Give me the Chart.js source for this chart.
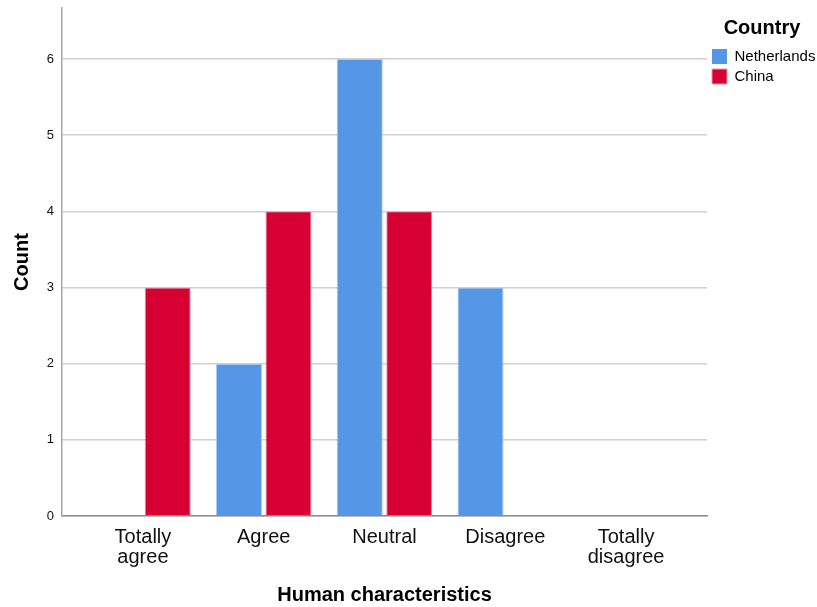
<!DOCTYPE html>
<html>
<head>
<meta charset="utf-8">
<script src="https://cdn.jsdelivr.net/npm/chart.js@4/dist/chart.umd.min.js"></script>
<style>
  html, body { margin: 0; padding: 0; background: #fff; }
  #wrap { width: 817px; height: 607px; }
</style>
</head>
<body>
<div id="wrap"><canvas id="grafico" width="817" height="607"></canvas></div>
<script>
// Datos del gráfico
const categorias = [["Totally", "agree"], "Agree", "Neutral", "Disagree", ["Totally", "disagree"]];
const paises = ["Netherlands", "China"];
const valoresHolanda = [0, 2, 6, 3, 0];
const valoresChina = [3, 4, 4, 0, 0];
const ticksY = [0, 1, 2, 3, 4, 5, 6];

const AZUL = "#5596e6";
const ROJO = "#d70032";

function puntos(valores) {
  return valores.map((v, i) => ({ x: i, y: v }));
}

// Ancho fijo de la leyenda (a la derecha)
const anchoLeyenda = {
  id: "anchoLeyenda",
  beforeLayout(chart) {
    const ley = chart.legend;
    if (!ley || ley._fitParcheado) return;
    const fitOriginal = ley.fit;
    ley.fit = function () {
      fitOriginal.call(this);
      this.width = 110;
    };
    ley._fitParcheado = true;
  }
};

const ctx = document.getElementById("grafico").getContext("2d");
new Chart(ctx, {
  type: "bar",
  data: {
    datasets: [
      {
        label: paises[0],
        data: puntos(valoresHolanda),
        backgroundColor: AZUL,
        borderColor: "#a9cbf3",
        borderWidth: c => (c.raw && c.raw.y ? 1 : 0),
        borderSkipped: "bottom"
      },
      {
        label: paises[1],
        data: puntos(valoresChina),
        backgroundColor: ROJO,
        borderColor: "#ee9aae",
        borderWidth: c => (c.raw && c.raw.y ? 1 : 0),
        borderSkipped: "bottom"
      }
    ]
  },
  plugins: [anchoLeyenda],
  options: {
    responsive: false,
    animation: false,
    events: [],
    layout: { padding: { top: 8, right: 0, left: 0, bottom: 0 } },
    datasets: { bar: { categoryPercentage: 0.82, barPercentage: 0.93 } },
    plugins: {
      tooltip: { enabled: false },
      legend: {
        position: "right",
        align: "start",
        title: {
          display: true,
          text: "Country",
          color: "#000",
          font: { family: "Liberation Sans", size: 20, weight: "bold" },
          padding: { top: 10, bottom: 2 }
        },
        labels: {
          boxWidth: 15,
          boxHeight: 15,
          padding: 5,
          color: "#000",
          font: { family: "Liberation Sans", size: 15 }
        }
      }
    },
    scales: {
      x: {
        type: "linear",
        offset: false,
        min: -0.67,
        max: 4.67,
        afterBuildTicks: s => { s.ticks = categorias.map((c, i) => ({ value: i })); },
        afterFit: s => { s.height = 91; },
        grid: { display: false, drawTicks: false, offset: false },
        border: { display: true, color: "#8c8c8c", width: 1.5 },
        ticks: {
          autoSkip: false,
          maxRotation: 0,
          padding: 11,
          color: "#111",
          font: { family: "Liberation Sans", size: 20, lineHeight: 1.0 },
          callback: v => categorias[v]
        },
        title: {
          display: true,
          text: "Human characteristics",
          color: "#000",
          font: { family: "Liberation Sans", size: 20, weight: "bold" },
          padding: { top: 0, bottom: 0 }
        }
      },
      y: {
        min: 0,
        max: 6.67,
        afterBuildTicks: s => { s.ticks = ticksY.map(v => ({ value: v })); },
        afterFit: s => { s.width = 62; s.paddingTop = 0; },
        grid: { color: "#d0d0d0", lineWidth: 1.5, drawTicks: false },
        border: { display: true, color: "#a6a6a6", width: 1.5 },
        ticks: {
          padding: 8,
          color: "#111",
          font: { family: "Liberation Sans", size: 13 }
        },
        title: {
          display: true,
          text: "Count",
          color: "#000",
          font: { family: "Liberation Sans", size: 20, weight: "bold" },
          padding: { top: 10, bottom: 0 }
        }
      }
    }
  }
});
</script>
</body>
</html>
